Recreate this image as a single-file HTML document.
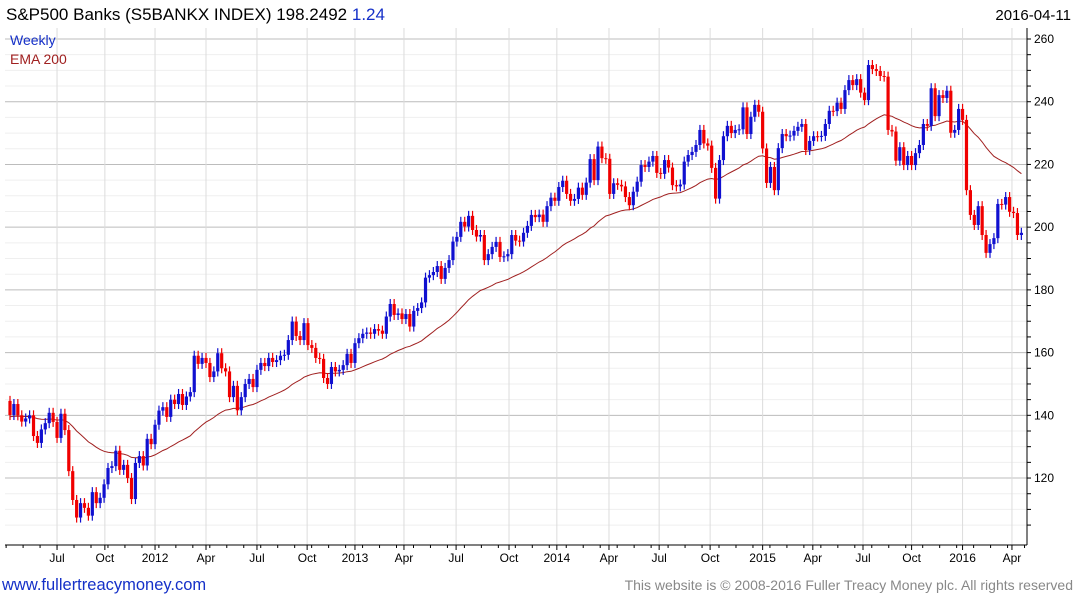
<!DOCTYPE html>
<html><head><meta charset="utf-8"><style>
body{margin:0;background:#fff;width:1075px;height:600px;overflow:hidden;font-family:"Liberation Sans",sans-serif}
svg{position:absolute;left:0;top:0}
</style></head><body>
<svg id="chart" width="1075" height="600">
<text x="6" y="20" font-size="17" fill="#000">S&amp;P500 Banks  (S5BANKX INDEX) 198.2492 <tspan fill="#1530c8">1.24</tspan></text>
<text x="1071" y="20" font-size="15" fill="#000" text-anchor="end">2016-04-11</text>
<g id="grid"></g>
<g id="ema"></g>
<g id="candles"></g>
<g id="axes"></g>
<text x="10" y="45" font-size="14" fill="#1530c8">Weekly</text>
<text x="10" y="64" font-size="14" fill="#a02020">EMA 200</text>
<text x="2" y="590" font-size="16.5" fill="#1530c8">www.fullertreacymoney.com</text>
<text x="1073" y="590" font-size="14" fill="#888" text-anchor="end">This website is © 2008-2016 Fuller Treacy Money plc. All rights reserved</text>
</svg>
<script>
const closes=[140.1,143.6,140,138,139,140,133.4,131.2,135.5,137.5,140.8,137.9,132.8,140.5,135.3,122.2,113,107.4,112,110.5,108,115.5,112,113.7,118,123.2,123.8,128.7,122.6,124.2,120,113.3,124.8,127,124,132.5,130.8,137,141.5,142.6,139.5,145,143.6,146.8,143.3,146,147.4,159,156.4,158.3,156.7,152.2,154,159.8,155,154,145.8,149.4,141.6,145.8,150,151.6,149,154.5,156.7,155.7,158.3,157,157.6,159,159.3,164,169.9,165.3,164,169.4,162.4,161.5,158.3,158,151.9,150,155.4,154,154.5,156,159.6,156.7,163,164.6,166,166.4,166,167.5,167,166,171.5,175.5,172,172.5,170.7,172.3,168.3,173.3,174.2,176,183.9,184.7,185.7,187.6,183.5,187,189.5,195.4,196.9,201.7,200.2,203.6,199.1,197,197.5,189.5,191.4,193.7,195.3,190.5,190.7,191.4,197.5,195.7,195.4,198.2,200.4,203.9,203.2,204,201.7,206.7,209.4,208.4,212.8,214.8,210.6,208.4,209,212.6,210.3,214.2,221.7,215,225.7,222,221.8,210.6,214,213.5,213,209.6,207,211.3,214.5,219.8,219.2,220.9,222.7,217.3,217,221.4,219,213.4,213,213.6,220.9,223,224,226.2,231,226.7,226,218.9,209.1,221.4,229,232.3,230,231,231.2,238.2,229.7,235.2,239,236.8,225.1,214.1,219.2,211.8,225.2,229.7,229,229.2,230.7,232,232.9,224.6,227.5,229,228.9,229.1,232.9,237.1,237,239.7,237.7,243.7,246.9,245.3,247.2,242.9,240.5,251.7,250.4,249.8,248.2,248,231,230.5,221.2,225.5,219.8,222.7,219.8,223.6,226.2,232.9,232.3,244.3,235.4,242.1,241.2,243.5,230.1,231,237.7,234.2,211.8,203.9,200.7,206.7,197.5,191.8,194.6,196.5,207.4,207.2,209.6,204.9,204.5,197.5,198.2];
const firstOpen=144.6;
const emaSeed=139.5;
const yTicks=[120,140,160,180,200,220,240,260];
const xTickLabels=["Jul","Oct","2012","Apr","Jul","Oct","2013","Apr","Jul","Oct","2014","Apr","Jul","Oct","2015","Apr","Jul","Oct","2016","Apr"];
const xTickWeeks=[12,24.2,37,50,63,75.8,88,100.5,113.8,127.3,139.5,152.8,165.6,178.6,192,204.8,217.6,230,243,255.6];

const NS="http://www.w3.org/2000/svg";
const L=5,R=1027,T=28,B=545;
const yS=v=>39+(260-v)*3.136;
const xS=i=>10+i*3.92;
function mk(tag,attrs,parent){const e=document.createElementNS(NS,tag);for(const k in attrs)e.setAttribute(k,attrs[k]);parent.appendChild(e);return e;}
const grid=document.getElementById('grid'),axes=document.getElementById('axes'),cg=document.getElementById('candles'),eg=document.getElementById('ema');
for(let v=105;v<=265;v+=5){const y=yS(v);if(y<T||y>B)continue;
 const ln=mk('line',{x1:L,x2:R,y1:y,y2:y,stroke:(v%20===0)?'#bcbcbc':'#efefef','stroke-width':1},grid);
 
 
 const tk=mk('line',{x1:R,x2:R+4,y1:y,y2:y,stroke:'#000'},axes);
 
 }
yTicks.forEach(v=>{const t=mk('text',{x:1034,y:yS(v)+4,'font-size':12,fill:'#000'},axes);t.textContent=v;
 
 });
xTickWeeks.forEach((w,i)=>{const x=xS(w);
 const gl=mk('line',{x1:x,x2:x,y1:T,y2:B,stroke:'#dcdcdc','stroke-width':1},grid);
 
 
 const tk=mk('line',{x1:x,x2:x,y1:B,y2:B+5,stroke:'#000'},axes);
 
 
 const t=mk('text',{x:x,y:562,'font-size':12,fill:'#000','text-anchor':'middle'},axes);t.textContent=xTickLabels[i];
 
 });
for(let m=0;m<62;m++){const x=xS(12-3*4.33+m*4.33);if(x<L||x>R)continue;
 const tk=mk('line',{x1:x,x2:x,y1:B,y2:B+3,stroke:'#000'},axes);
 
 }
const ax1=mk('line',{x1:R,x2:R,y1:T,y2:B,stroke:'#000'},axes);


const ax2=mk('line',{x1:L,x2:R,y1:B,y2:B,stroke:'#000'},axes);


let e=emaSeed;const a=2/41;let pts=[];
closes.forEach((c,i)=>{e=e+a*(c-e);pts.push(xS(i).toFixed(1)+','+yS(e).toFixed(1));});
const pl=mk('polyline',{points:pts.join(' '),fill:'none',stroke:'#a02020','stroke-width':1},eg);


closes.forEach((c,i)=>{const o=i?closes[i-1]:firstOpen;const up=c>=o;const col=up?'#1010d0':'#f00000';
 const x=xS(i);const hi=Math.max(o,c)+1.6,lo=Math.min(o,c)-1.6;
 const g=mk('g',{},cg);
 
 
 mk('line',{x1:x,x2:x,y1:yS(hi),y2:yS(lo),stroke:col,'stroke-width':1.2},g);
 const y1=yS(Math.max(o,c)),y2=yS(Math.min(o,c));
 mk('rect',{x:x-1.6,y:y1,width:3.2,height:Math.max(1,y2-y1),fill:col},g);});
</script>
</body></html>
